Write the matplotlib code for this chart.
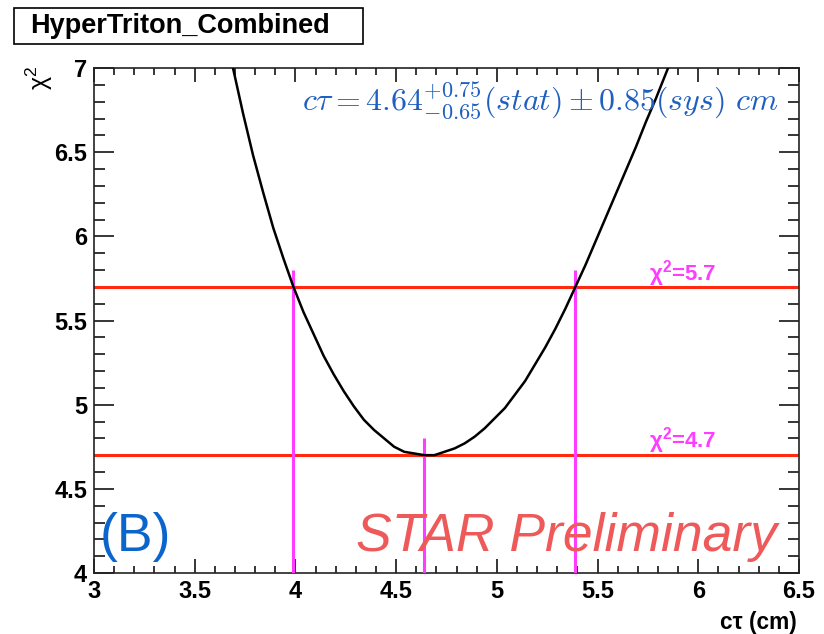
import matplotlib
matplotlib.use("Agg")
import matplotlib.pyplot as plt
from matplotlib.ticker import MultipleLocator, FuncFormatter

plt.rcParams['font.family'] = ['Liberation Sans', 'DejaVu Sans']
plt.rcParams['mathtext.fontset'] = 'cm'
plt.rcParams['mathtext.rm'] = 'Liberation Sans:bold'
plt.rcParams['mathtext.sf'] = 'Liberation Sans'

# chi2 scan
ctau = [3.69, 3.74, 3.79, 3.84, 3.89, 3.94, 3.99, 4.04, 4.09, 4.14, 4.19, 4.24, 4.29,
        4.34, 4.39, 4.44, 4.49, 4.54, 4.59, 4.64, 4.69, 4.74, 4.79, 4.84, 4.89, 4.94,
        4.99, 5.04, 5.09, 5.14, 5.19, 5.24, 5.29, 5.34, 5.39, 5.44, 5.49, 5.54, 5.59,
        5.64, 5.69, 5.74, 5.79, 5.85]
chi2 = [7.00, 6.73, 6.48, 6.26, 6.05, 5.87, 5.70, 5.55, 5.42, 5.29, 5.18, 5.08, 4.99,
        4.91, 4.85, 4.80, 4.75, 4.72, 4.71, 4.70, 4.70, 4.72, 4.74, 4.77, 4.81, 4.86,
        4.92, 4.98, 5.06, 5.14, 5.24, 5.34, 5.45, 5.57, 5.70, 5.83, 5.97, 6.11, 6.25,
        6.39, 6.53, 6.68, 6.82, 7.00]

chi2_levels = [4.7, 5.7]
level_labels = ["χ$^{2}$=4.7", "χ$^{2}$=5.7"]
ctau_best = 4.64
ctau_low = 3.99
ctau_high = 5.39
marker_tops = [5.8, 4.8, 5.8]

W, H = 824, 634
fig = plt.figure(figsize=(W / 100, H / 100), dpi=100)
ax = fig.add_axes([94 / W, 1 - 573 / H, (799 - 94) / W, (573 - 68) / H])

ax.set_xlim(3, 6.5)
ax.set_ylim(4, 7)

red = '#ff2a10'
mag = '#ff3cff'
for lv in chi2_levels:
    ax.axhline(lv, color=red, lw=2.2, zorder=2)
for xv, top in zip([ctau_low, ctau_best, ctau_high], marker_tops):
    ax.plot([xv, xv], [4, top], color=mag, lw=2.2, zorder=3, solid_capstyle='butt')

ax.plot(ctau, chi2, color='black', lw=1.8, zorder=4,
        solid_joinstyle='round', solid_capstyle='round')

ax.text(5.756, 5.74, level_labels[1], color=mag, fontsize=16, fontweight='bold',
        ha='left', va='baseline', zorder=5, math_fontfamily='custom')
ax.text(5.756, 4.748, level_labels[0], color=mag, fontsize=16, fontweight='bold',
        ha='left', va='baseline', zorder=5, math_fontfamily='custom')

ax.text(6.396, 6.75,
        r'$c\tau = 4.64^{+0.75}_{-0.65}(stat) \pm 0.85(sys)\ cm$',
        color='#1f5fbf', fontsize=23, ha='right', va='baseline', zorder=5,
        math_fontfamily='cm')

ax.text(3.03, 4.13, '(B)', color='#0a66cc', fontsize=38.5, ha='left', va='baseline', zorder=5)
ax.text(6.39, 4.13, 'STAR Preliminary', color='#ee5a5a', fontsize=38.5, style='italic',
        ha='right', va='baseline', zorder=5)

fmt = FuncFormatter(lambda v, p: ('%g' % round(v, 3)))
ax.xaxis.set_major_locator(MultipleLocator(0.5))
ax.xaxis.set_minor_locator(MultipleLocator(0.1))
ax.yaxis.set_major_locator(MultipleLocator(0.5))
ax.yaxis.set_minor_locator(MultipleLocator(0.1))
ax.xaxis.set_major_formatter(fmt)
ax.yaxis.set_major_formatter(fmt)

ax.tick_params(axis='x', which='major', direction='in', length=10, width=1.1,
               top=True, labelsize=17, pad=5)
ax.tick_params(axis='x', which='minor', direction='in', length=5, width=1.1, top=True)
ax.tick_params(axis='y', which='major', direction='in', length=14.5, width=1.1,
               right=True, labelsize=17, pad=5)
ax.tick_params(axis='y', which='minor', direction='in', length=8, width=1.1, right=True)
for lab in ax.get_xticklabels() + ax.get_yticklabels():
    lab.set_fontweight('bold')
for sp in ax.spines.values():
    sp.set_linewidth(1.2)
    sp.set_color('#222222')

fig.text(797 / W, 1 - 622 / H, 'cτ (cm)', fontsize=16.3, fontweight='bold',
         ha='right', va='center')
fig.text(39 / W, 1 - 66 / H, r'χ$^{\mathsf{2}}$', fontsize=18, rotation=90,
         ha='center', va='top', math_fontfamily='custom')

fig.patches.append(plt.Rectangle((14 / W, 1 - 44 / H), (363 - 14) / W, (44 - 8) / H,
                                 transform=fig.transFigure, fill=False,
                                 edgecolor='black', lw=1.2))
fig.text(30 / W, 1 - 26 / H, 'HyperTriton_Combined', fontsize=19.5, fontweight='bold',
         ha='left', va='center')

fig.savefig('out.png', dpi=100)
